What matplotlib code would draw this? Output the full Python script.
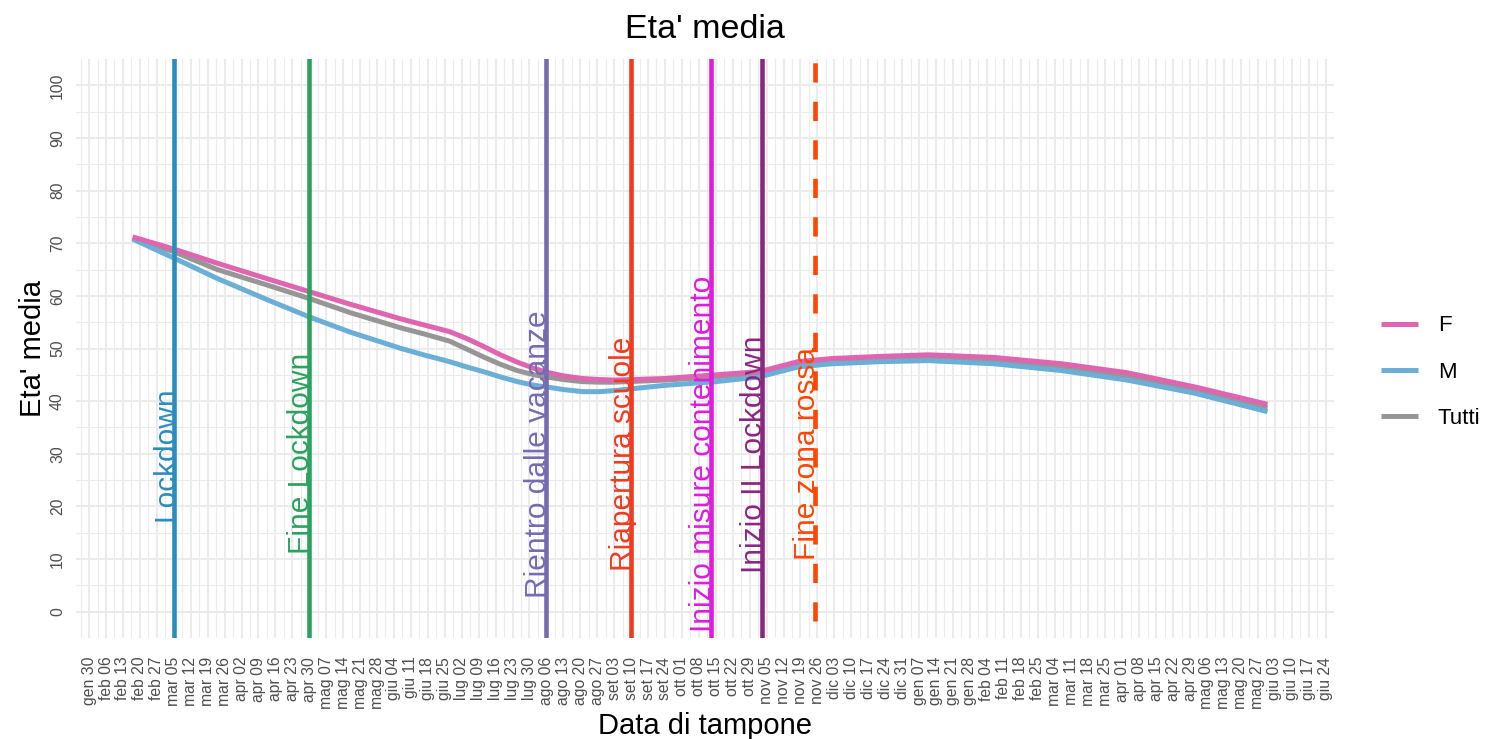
import matplotlib
matplotlib.use('Agg')
import matplotlib.pyplot as plt
import pandas as pd
import numpy as np

plt.rcParams['font.family'] = ['Liberation Sans', 'DejaVu Sans']

# ---------------- data ----------------
dates = ['2020-02-17', '2020-03-05', '2020-03-23', '2020-04-13', '2020-04-30',
         '2020-05-17', '2020-06-07', '2020-06-17', '2020-06-27', '2020-07-04',
         '2020-07-11', '2020-07-18', '2020-07-25', '2020-08-01', '2020-08-06',
         '2020-08-13', '2020-08-21', '2020-08-28', '2020-09-03', '2020-09-24',
         '2020-10-15', '2020-11-02', '2020-11-18', '2020-12-02', '2020-12-22',
         '2021-01-11', '2021-02-07', '2021-03-07', '2021-04-03', '2021-05-01',
         '2021-05-31']
f_vals = [71.2, 68.9, 66.2, 63.2, 60.8, 58.4, 55.6, 54.4, 53.2, 51.9,
          50.4, 48.8, 47.4, 46.2, 45.5, 44.8, 44.3, 44.1, 44.0, 44.3,
          45.0, 45.6, 47.5, 48.1, 48.5, 48.8, 48.3, 47.1, 45.4, 42.7,
          39.4]
m_vals = [70.8, 67.2, 63.3, 59.2, 56.0, 53.1, 50.0, 48.7, 47.5, 46.5,
          45.6, 44.6, 43.7, 43.0, 42.7, 42.2, 41.8, 41.8, 42.0, 43.0,
          43.7, 44.6, 46.5, 47.1, 47.5, 47.7, 47.1, 45.8, 44.0, 41.5,
          38.0]
t_vals = [71.0, 68.4, 65.0, 62.0, 59.5, 56.8, 53.9, 52.7, 51.4, 49.9,
          48.4, 47.0, 45.8, 45.0, 44.6, 44.1, 43.7, 43.6, 43.6, 44.0,
          44.6, 45.3, 47.2, 47.7, 48.1, 48.3, 47.7, 46.5, 44.7, 42.1,
          38.7]
series_names = ['F', 'M', 'Tutti']
series_colors = ['#DF65B0', '#6BAED6', '#969696']

event_dates = ['2020-03-05', '2020-04-30', '2020-08-06', '2020-09-10',
               '2020-10-13', '2020-11-03', '2020-11-25']
event_labels = ['Lockdown', 'Fine Lockdown', 'Rientro dalle vacanze',
                'Riapertura scuole', 'Inizio misure contenimento',
                'Inizio II Lockdown', 'Fine zona rossa']
event_colors = ['#2B8CBE', '#2CA25F', '#756BB1', '#F03B20', '#DD1CDD',
                '#88287F', '#FF4500']
event_dashed = [False, False, False, False, False, False, True]

mesi = ['gen', 'feb', 'mar', 'apr', 'mag', 'giu', 'lug', 'ago', 'set',
        'ott', 'nov', 'dic']
tick_start, tick_end = '2020-01-30', '2021-06-24'
y_ticks = list(range(0, 101, 10))

# ---------------- figure ----------------
W, H = 1486, 739
fig = plt.figure(figsize=(W / 100, H / 100), dpi=100)
L, R, T, B = 76, 1334, 59, 638
ax = fig.add_axes([L / W, 1 - B / H, (R - L) / W, (B - T) / H])

dts = pd.to_datetime(dates)
major = pd.date_range(tick_start, tick_end, freq='7D')
minor = list(major - pd.Timedelta(hours=84)) + [major[-1] + pd.Timedelta(hours=84)]

x0 = pd.Timestamp(tick_start) - pd.Timedelta(days=5.4)
x1 = pd.Timestamp(tick_start) + pd.Timedelta(days=511.5)
ax.set_xlim(x0, x1)
ax.set_ylim(-5, 105)

ax.set_xticks(major)
ax.set_xticklabels([f"{mesi[d.month - 1]} {d.day:02d}" for d in major])
ax.set_xticks(minor, minor=True)
ax.set_yticks(y_ticks)
ax.set_yticklabels([str(v) for v in y_ticks])
ax.set_yticks(np.arange(5, 100, 10), minor=True)

ax.grid(which='major', color='#EBEBEB', lw=1.5, zorder=0)
ax.grid(which='minor', color='#EBEBEB', lw=0.8, zorder=0)
ax.set_axisbelow(True)
for s in ax.spines.values():
    s.set_visible(False)

ax.tick_params(axis='x', which='both', length=0, pad=13.5, labelsize=11.3,
               labelcolor='#4D4D4D', labelrotation=90)
ax.tick_params(axis='y', which='both', length=0, pad=8, labelsize=11.3,
               labelcolor='#4D4D4D', labelrotation=90)
for lab in ax.get_yticklabels():
    lab.set_va('center')

# series (Tutti under, then M, then F)
vals = {'F': f_vals, 'M': m_vals, 'Tutti': t_vals}
cols = dict(zip(series_names, series_colors))
handles = {}
for name in ['Tutti', 'M', 'F']:
    ln, = ax.plot(dts, vals[name], color=cols[name], lw=3.6, solid_capstyle='butt',
                  solid_joinstyle='round', zorder=2)
    handles[name] = ln

# event lines
for d, lab, col, dashed in zip(event_dates, event_labels, event_colors, event_dashed):
    dd = pd.Timestamp(d)
    ls = (4.7, (4.2, 4.2)) if dashed else '-'
    ax.axvline(dd, color=col, lw=3.3, ls=ls, dash_capstyle='butt', zorder=4)
    ax.text(dd, 30, lab, rotation=90, rotation_mode='anchor', ha='center',
            va='baseline', color=col, fontsize=21.5, zorder=3)

# titles
cx = (L + R) / 2 / W
fig.text(cx, 1 - 38.3 / H, "Eta' media", ha='center', va='baseline', fontsize=24.5)
fig.text(cx, 1 - 734.3 / H, 'Data di tampone', ha='center', va='baseline', fontsize=21)
fig.text(41 / W, 1 - 348.5 / H, "Eta' media", rotation=90, rotation_mode='anchor',
         ha='center', va='baseline', fontsize=21)

# legend
fig.legend([handles[n] for n in series_names], series_names, loc='center left',
           bbox_to_anchor=(1381 / W, 1 - 372 / H), frameon=False, fontsize=16,
           handlelength=1.65, handletextpad=0.9, labelspacing=1.13,
           borderpad=0, borderaxespad=0)

fig.savefig('out.png', dpi=100)
